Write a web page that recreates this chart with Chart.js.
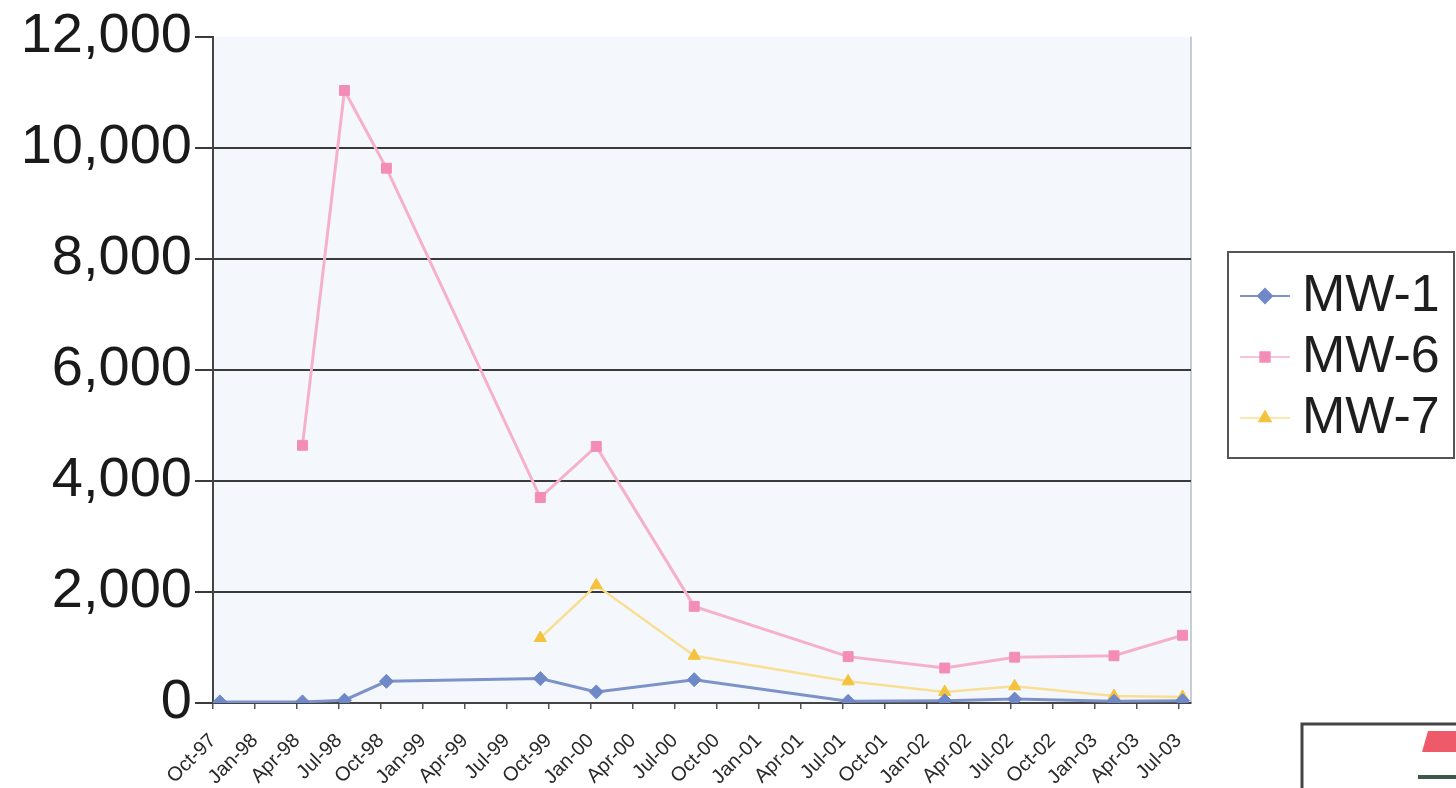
<!DOCTYPE html>
<html>
<head>
<meta charset="utf-8">
<script src="https://cdn.jsdelivr.net/npm/chart.js@4/dist/chart.umd.min.js"></script>
<style>
  html, body { margin: 0; padding: 0; background: #ffffff; }
  #wrap { width: 1456px; height: 788px; }
</style>
</head>
<body>
<div id="wrap"><canvas id="c" width="1456" height="788"></canvas></div>
<script>
// ---------------- DATA ----------------
const quarterLabels = ['Oct-97','Jan-98','Apr-98','Jul-98','Oct-98','Jan-99','Apr-99','Jul-99',
  'Oct-99','Jan-00','Apr-00','Jul-00','Oct-00','Jan-01','Apr-01','Jul-01','Oct-01','Jan-02',
  'Apr-02','Jul-02','Oct-02','Jan-03','Apr-03','Jul-03'];
const sampleDates = ['1997-10-16','1998-04-13','1998-07-13','1998-10-13','1999-09-13','2000-01-13',
  '2000-08-13','2001-07-13','2002-02-10','2002-07-10','2003-02-13','2003-07-10'];
const seriesNames = ['MW-1','MW-6','MW-7'];
const mw1 = [20, 20, 50, 390, 440, 200, 420, 30, 40, 70, 30, 40];
const mw6 = [null, 4640, 11030, 9630, 3700, 4620, 1740, 835, 630, 825, 850, 1220];
const mw7 = [null, null, null, null, 1170, 2120, 850, 390, 200, 300, 125, 110];
const yTicks = [0, 2000, 4000, 6000, 8000, 10000, 12000];

// months since 1 Oct 1997 (x positions on the date-like axis)
function monthsSinceStart(s) {
  const [y, m, d] = s.split('-').map(Number);
  return (y - 1997) * 12 + (m - 10) + (d - 1) / 30.4;
}
const xs = sampleDates.map(monthsSinceStart);
const pts = arr => arr.map((v, i) => ({ x: xs[i], y: v }));

const FONT = "'Liberation Sans', Arial, Helvetica, sans-serif";

const styles = [
  { line: '#7d92c8', fill: '#6f88c8', shape: 'rectRot', lw: 3 },
  { line: '#f6b1ca', fill: '#f38db7', shape: 'rect', lw: 3 },
  { line: '#f8df93', fill: '#f5c23e', shape: 'triangle', lw: 2.5 }
];
const seriesData = [mw1, mw6, mw7];

const plotBg = {
  id: 'plotBg',
  beforeDraw(chart) {
    const { ctx, chartArea: a } = chart;
    ctx.save();
    ctx.fillStyle = '#f4f8fd';
    ctx.fillRect(a.left, a.top, a.right - a.left, a.bottom - a.top);
    ctx.strokeStyle = '#b8bcc4';
    ctx.lineWidth = 1.5;
    ctx.beginPath();
    ctx.moveTo(a.right, a.top); ctx.lineTo(a.right, a.bottom);
    ctx.stroke();
    ctx.restore();
  }
};

const legendBox = {
  id: 'legendBox',
  afterDraw(chart) {
    const { ctx, chartArea: a } = chart;
    const lx = a.right + 37, ly = 252, lw = 226, lh = 206;
    ctx.save();
    ctx.fillStyle = '#ffffff';
    ctx.fillRect(lx, ly, lw, lh);
    ctx.strokeStyle = '#555555';
    ctx.lineWidth = 2;
    ctx.strokeRect(lx, ly, lw, lh);
    const rows = [296, 357, 418];
    seriesNames.forEach((name, i) => {
      const st = styles[i], cy = rows[i];
      ctx.strokeStyle = st.line;
      ctx.lineWidth = i === 0 ? 2 : 1.5;
      ctx.beginPath();
      ctx.moveTo(lx + 12, cy); ctx.lineTo(lx + 62, cy);
      ctx.stroke();
      ctx.fillStyle = st.fill; ctx.strokeStyle = st.fill;
      Chart.helpers.drawPoint(ctx, { pointStyle: st.shape, radius: 7, borderWidth: 1, rotation: 0 }, lx + 37, cy);
      ctx.fillStyle = '#1e1e1e';
      ctx.font = '52px ' + FONT;
      ctx.textBaseline = 'middle';
      ctx.textAlign = 'left';
      ctx.fillText(name, lx + 74, cy + 1);
    });
    // partial logo frame at the bottom right of the scanned page
    ctx.strokeStyle = '#444';
    ctx.lineWidth = 3;
    ctx.beginPath();
    ctx.moveTo(1302, 800); ctx.lineTo(1302, 724); ctx.lineTo(1460, 724);
    ctx.stroke();
    ctx.fillStyle = '#ee5a6a';
    ctx.beginPath();
    ctx.moveTo(1428, 731); ctx.lineTo(1458, 731); ctx.lineTo(1458, 752); ctx.lineTo(1422, 752);
    ctx.closePath(); ctx.fill();
    ctx.fillStyle = '#3d5a48';
    ctx.fillRect(1418, 775, 40, 4);
    ctx.restore();
  }
};

new Chart(document.getElementById('c'), {
  type: 'line',
  data: {
    datasets: seriesNames.map((n, i) => ({
      label: n,
      data: pts(seriesData[i]),
      borderColor: styles[i].line,
      backgroundColor: styles[i].fill,
      pointBackgroundColor: styles[i].fill,
      pointBorderColor: styles[i].fill,
      pointStyle: styles[i].shape,
      pointRadius: 7,
      pointBorderWidth: 1,
      borderWidth: styles[i].lw,
      tension: 0,
      spanGaps: true,
      fill: false
    }))
  },
  options: {
    responsive: false,
    animation: false,
    layout: { padding: { left: 0, right: 265, top: 32, bottom: 0 } },
    plugins: { legend: { display: false }, tooltip: { enabled: false } },
    scales: {
      x: {
        type: 'linear',
        min: 0,
        max: 69.9,
        afterBuildTicks: s => { s.ticks = quarterLabels.map((l, i) => ({ value: i * 3 })); },
        afterFit: s => { s.height = 85; },
        ticks: {
          autoSkip: false,
          minRotation: 45,
          maxRotation: 45,
          padding: 20,
          color: '#2a2a2a',
          font: { family: FONT, size: 20 },
          callback: v => quarterLabels[Math.round(v / 3)]
        },
        grid: { drawOnChartArea: false, drawTicks: true, tickLength: 6, color: '#555', lineWidth: 1.5 },
        border: { display: true, color: '#444', width: 2 }
      },
      y: {
        min: 0,
        max: 12000,
        afterBuildTicks: s => { s.ticks = yTicks.map(v => ({ value: v })); },
        afterFit: s => { s.width = 213; },
        ticks: {
          padding: 3,
          color: '#1a1a1a',
          font: { family: FONT, size: 56 },
          callback: v => v.toLocaleString('en-US')
        },
        grid: {
          color: c => (c.tick && c.tick.value === 12000) ? 'rgba(0,0,0,0)' : '#3a3a3a',
          tickColor: '#3a3a3a',
          lineWidth: 2,
          tickLength: 18,
          drawTicks: true
        },
        border: { display: true, color: '#444', width: 2 }
      }
    }
  },
  plugins: [plotBg, legendBox]
});
</script>
</body>
</html>
